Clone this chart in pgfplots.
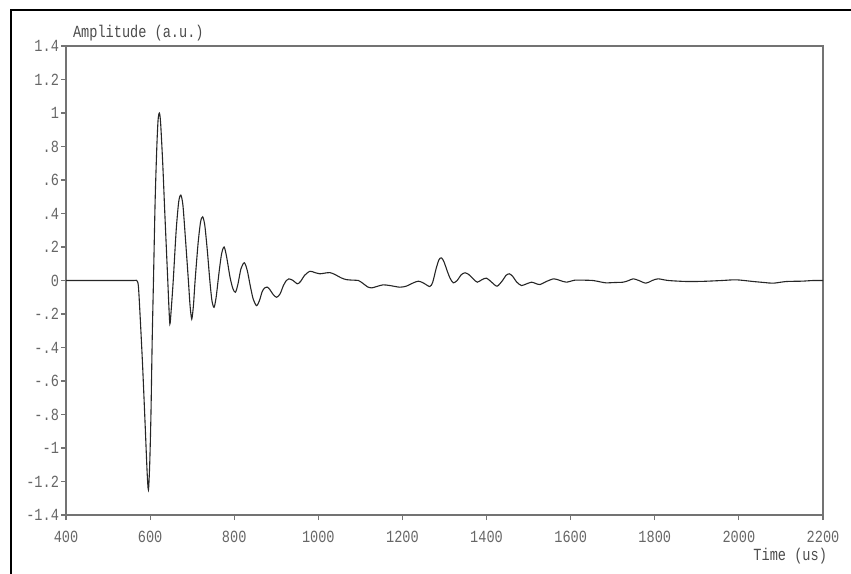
\documentclass[border=0pt]{standalone}
\usepackage{fontspec}
\setmonofont{Liberation Mono}
\newfontfamily\plotfont{Liberation Mono}[FakeStretch=0.8]
\usepackage{pgfplots}
\pgfplotsset{compat=1.18}
\begin{document}
\begin{tikzpicture}
\useasboundingbox (-33pt,-29pt) rectangle (392.5pt,257.5pt);
\draw[black, line width=1.2pt] (-27.5pt,-40pt) -- (-27.5pt,252.5pt) -- (400pt,252.5pt);
\begin{axis}[
  scale only axis,
  width=378.5pt, height=234.5pt,
  xmin=400, xmax=2200, ymin=-1.4, ymax=1.4,
  axis line style={black!55, line width=0.7pt},
  tick style={black!55, line width=0.6pt},
  tick align=outside,
  xtick pos=left, ytick pos=left,
  major tick length=2.5pt,
  xtick={400,600,800,1000,1200,1400,1600,1800,2000,2200},
  xticklabels={400,600,800,1000,1200,1400,1600,1800,2000,2200},
  ytick={-1.4,-1.2,-1,-0.8,-0.6,-0.4,-0.2,0,0.2,0.4,0.6,0.8,1,1.2,1.4},
  yticklabels={-1.4,-1.2,-1,-.8,-.6,-.4,-.2,0,.2,.4,.6,.8,1,1.2,1.4},
  ticklabel style={font=\plotfont\fontsize{8.5}{9}\selectfont, text=black!60},
  xticklabel style={yshift=-2pt},
  yticklabel style={xshift=2.5pt},
  xlabel={Time (us)},
  ylabel={Amplitude (a.u.)},
  label style={font=\plotfont\fontsize{8.5}{9}\selectfont, text=black!70},
  xlabel style={at={(axis description cs:1,0)}, anchor=base east, xshift=5.5pt, yshift=-22.5pt},
  ylabel style={at={(axis description cs:0,1)}, anchor=base west, rotate=-90, xshift=0pt, yshift=4pt},
]
\addplot[black!85, line width=0.55pt, smooth, tension=0.45] coordinates {
(400,0)(500,0)(560,0)(568,0)(572,-0.03)(576,-0.2)(582,-0.5)(588,-0.85)(593,-1.15)(596,-1.25)(599,-1.1)(602,-0.8)(605,-0.35)(608,0)(612,0.48)(616,0.8)(619,0.96)(622,1.0)(625,0.94)(630,0.7)(635,0.4)(642,0)(644,-0.12)(647,-0.26)(650,-0.18)(655,0)(662,0.3)(668,0.47)(673,0.51)(678,0.45)(684,0.25)(691,0)(695,-0.15)(699,-0.23)(703,-0.15)(707,0)(714,0.22)(720,0.35)(725,0.38)(730,0.33)(736,0.18)(742,0)(747,-0.12)(752,-0.16)(757,-0.1)(764,0.05)(770,0.16)(776,0.20)(782,0.14)(790,0.02)(797,-0.05)(803,-0.07)(809,-0.02)(816,0.07)(824,0.106)(831,0.06)(838,-0.03)(845,-0.11)(853,-0.15)(860,-0.12)(866,-0.07)(872,-0.045)(879,-0.04)(885,-0.055)(893,-0.085)(901,-0.10)(909,-0.08)(917,-0.03)(924,0.0)(930,0.01)(940,0.0)(950,-0.02)(958,-0.005)(967,0.03)(980,0.055)(992,0.047)(1004,0.04)(1015,0.044)(1028,0.047)(1040,0.035)(1055,0.015)(1067,0.005)(1083,0.002)(1095,0)(1105,-0.015)(1117,-0.038)(1127,-0.044)(1140,-0.035)(1154,-0.026)(1170,-0.03)(1194,-0.04)(1210,-0.033)(1225,-0.015)(1238,-0.004)(1250,-0.015)(1265,-0.036)(1272,-0.01)(1280,0.07)(1287,0.125)(1293,0.135)(1299,0.11)(1306,0.06)(1313,0.015)(1321,-0.014)(1330,0.0)(1340,0.035)(1349,0.046)(1358,0.035)(1368,0.01)(1378,-0.01)(1389,0.005)(1400,0.014)(1412,-0.01)(1425,-0.034)(1438,0.0)(1446,0.03)(1454,0.04)(1462,0.025)(1472,-0.01)(1483,-0.03)(1495,-0.02)(1507,-0.01)(1517,-0.018)(1527,-0.024)(1543,-0.005)(1560,0.01)(1575,0.0)(1590,-0.01)(1610,0.002)(1630,0.002)(1653,0)(1670,-0.008)(1684,-0.014)(1705,-0.012)(1725,-0.01)(1738,0.0)(1749,0.01)(1762,0.0)(1779,-0.016)(1794,0.0)(1808,0.01)(1832,0.0)(1876,-0.006)(1915,-0.005)(1960,0.0)(1994,0.004)(2034,-0.006)(2060,-0.012)(2082,-0.016)(2113,-0.006)(2150,-0.004)(2177,0)(2200,0)
};
\end{axis}
\end{tikzpicture}
\end{document}
